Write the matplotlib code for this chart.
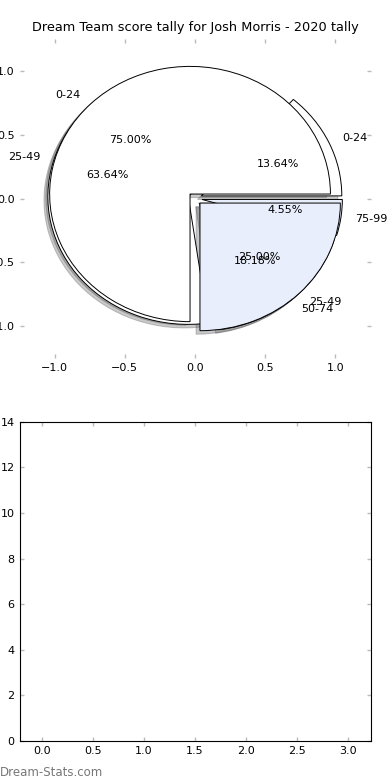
import matplotlib
matplotlib.use('Agg')
import matplotlib.pyplot as plt
from matplotlib.patches import Shadow

# score tally data
bands_all = ['0-24', '25-49', '50-74', '75-99']
counts_all = [3, 14, 4, 1]
bands_2020 = ['0-24', '25-49']
counts_2020 = [3, 1]

white = '#ffffff'
blue = '#e9eefc'
tick_grey = '#bbbbbb'

fig, (ax1, ax2) = plt.subplots(2, 1, figsize=(3.9, 7.8), dpi=100)
fig.subplots_adjust(left=0.05, right=0.95, bottom=0.05, top=0.95, hspace=0.2)

# two pies drawn on the same axes
ax1.pie(counts_all, labels=bands_all, explode=[0.05] * len(counts_all),
        colors=[white, white, white, blue], autopct='%1.2f%%', shadow=True,
        frame=True, textprops={'fontsize': 8},
        wedgeprops={'edgecolor': 'black', 'linewidth': 0.7})
ax1.pie(counts_2020, labels=bands_2020, explode=[0.05] * len(counts_2020),
        colors=[white, blue], autopct='%1.2f%%', shadow=True,
        frame=True, textprops={'fontsize': 8},
        wedgeprops={'edgecolor': 'black', 'linewidth': 0.7})
# lighter shadows
for p in ax1.patches:
    if isinstance(p, Shadow):
        p.set_alpha(0.3)
ax1.set_aspect('auto')
ax1.set_xlim(-1.25, 1.25)
ax1.set_ylim(-1.25, 1.25)
ax1.set_xticks([-1.0, -0.5, 0.0, 0.5, 1.0])
ax1.set_yticks([-1.0, -0.5, 0.0, 0.5, 1.0])
for s in ax1.spines.values():
    s.set_visible(False)
ax1.set_title('Dream Team score tally for Josh Morris - 2020 tally', fontsize=9.3)

# empty lower panel
ax2.set_xlim(-0.225, 3.225)
ax2.set_ylim(0, 14)
ax2.set_xticks([0.0, 0.5, 1.0, 1.5, 2.0, 2.5, 3.0])
ax2.set_yticks(range(0, 15, 2))

for ax in (ax1, ax2):
    ax.tick_params(direction='in', length=3, width=1, color=tick_grey,
                   labelsize=8, top=True, right=True)

fig.text(0.0, 0.005, 'Dream-Stats.com', color='#777777', fontsize=8.5)

fig.savefig('out.png')
